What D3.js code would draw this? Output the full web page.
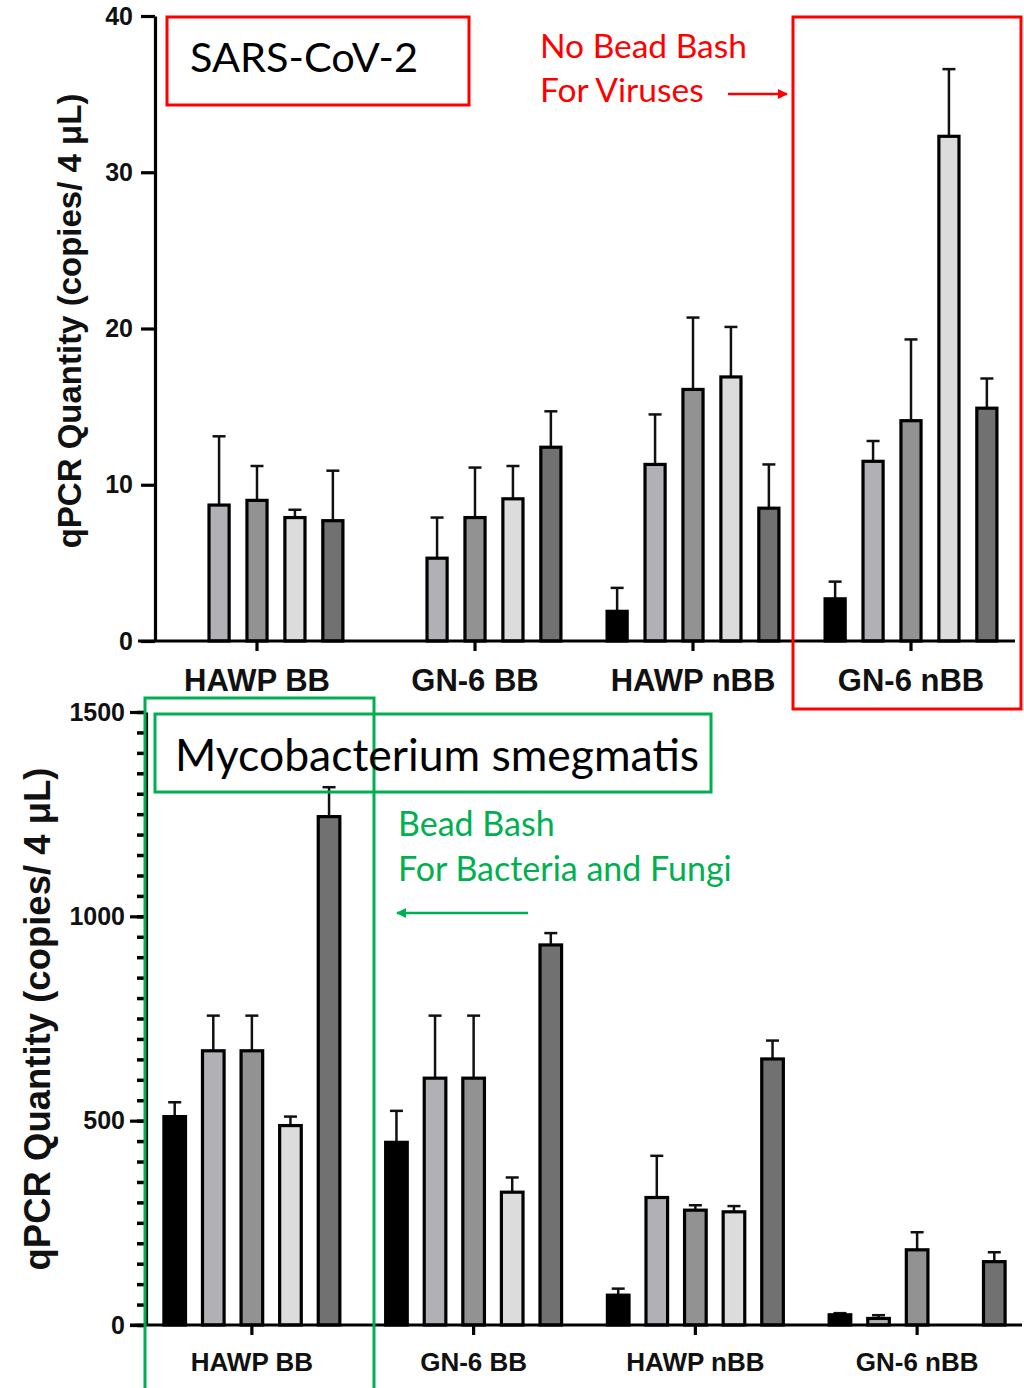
<!DOCTYPE html>
<html>
<head>
<meta charset="utf-8">
<script src="https://cdn.jsdelivr.net/npm/d3@7"></script>
<style>
  body { margin: 0; background: #fff; }
  svg { display: block; }
</style>
</head>
<body>
<script>
// groups and bar fills (5 bars per group)
const groups = ["HAWP BB", "GN-6 BB", "HAWP nBB", "GN-6 nBB"];
const barFills = ["#000000", "#b1b0b5", "#929292", "#dcdcdc", "#717171"];

// SARS-CoV-2 panel, mean and SD per group
const sarsMean = [
  [0, 8.7, 9.0, 7.9, 7.7],
  [0, 5.3, 7.9, 9.1, 12.4],
  [1.9, 11.3, 16.1, 16.9, 8.5],
  [2.7, 11.5, 14.1, 32.3, 14.9]
];
const sarsSd = [
  [0, 4.4, 2.2, 0.5, 3.2],
  [0, 2.6, 3.2, 2.1, 2.3],
  [1.5, 3.2, 4.6, 3.2, 2.8],
  [1.1, 1.3, 5.2, 4.3, 1.9]
];
const sarsTicks = [0, 10, 20, 30, 40];

// Mycobacterium smegmatis panel
const mycoMean = [
  [510, 671, 671, 488, 1244],
  [447, 604, 604, 325, 930],
  [73, 312, 281, 277, 651],
  [25, 16, 184, 0, 155]
];
const mycoSd = [
  [35, 86, 86, 22, 72],
  [77, 153, 153, 36, 29],
  [16, 102, 12, 14, 45],
  [4, 8, 43, 0, 23]
];
const mycoTicks = [0, 500, 1000, 1500];

const yTitle = "qPCR Quantity (copies/ 4 \u03bcL)";

const svg = d3.select("body").append("svg")
  .attr("width", 1024)
  .attr("height", 1388);

function drawPanel(opt) {
  const g = svg.append("g");

  const x = d3.scaleBand().domain(groups).range(opt.xRange);
  const inner = d3.scaleBand().domain(d3.range(5))
    .range([-x.step() * 0.435, x.step() * 0.435])
    .paddingInner(opt.pad).paddingOuter(opt.pad / 2);
  const y = d3.scaleLinear().domain([0, opt.max]).range(opt.yRange);

  const rows = [];
  groups.forEach((gr, i) => {
    opt.mean[i].forEach((m, j) => {
      if (m > 0) rows.push({ g: gr, s: j, m: m, sd: opt.sd[i][j] });
    });
  });
  const cx = d => x(d.g) + x.bandwidth() / 2 + inner(d.s) + inner.bandwidth() / 2;

  // error bars first, so the bar outline sits on top
  const eb = g.selectAll(".err").data(rows.filter(d => d.sd > 0)).enter().append("g")
    .attr("stroke", "#111").attr("stroke-width", 2.5);
  eb.append("line")
    .attr("x1", cx).attr("x2", cx)
    .attr("y1", d => y(d.m))
    .attr("y2", d => y(d.m + d.sd));
  eb.append("line")
    .attr("x1", d => cx(d) - 6.5)
    .attr("x2", d => cx(d) + 6.5)
    .attr("y1", d => y(d.m + d.sd))
    .attr("y2", d => y(d.m + d.sd));

  g.selectAll(".bar").data(rows).enter().append("rect")
    .attr("x", d => x(d.g) + x.bandwidth() / 2 + inner(d.s))
    .attr("width", inner.bandwidth())
    .attr("y", d => y(d.m))
    .attr("height", d => y(0) - y(d.m))
    .attr("fill", d => barFills[d.s])
    .attr("stroke", "#000")
    .attr("stroke-width", 3.2);

  // y axis
  const yAxis = d3.axisLeft(y).tickValues(opt.ticks).tickSize(opt.tick)
    .tickSizeOuter(0).tickFormat(d3.format("d"));
  const ya = g.append("g").attr("transform", `translate(${opt.axisX},0)`).call(yAxis);
  if (opt.minor) {
    g.append("g").attr("transform", `translate(${opt.axisX},0)`)
      .call(d3.axisLeft(y).tickValues(d3.range(0, opt.max + 1, 50)).tickSize(9).tickFormat(""))
      .call(a => a.select(".domain").remove())
      .selectAll("line").attr("stroke-width", 3.5);
  }
  ya.select(".domain").attr("stroke-width", 3.2);
  ya.selectAll(".tick line").attr("stroke-width", 3.2);
  ya.selectAll(".tick text")
    .attr("x", -opt.tick - opt.tickGap)
    .attr("font-family", "Liberation Sans, Arial, sans-serif")
    .attr("font-weight", "bold")
    .attr("font-size", opt.tickFont)
    .attr("fill", "#111");

  // x axis
  const xa = g.append("g").attr("transform", `translate(0,${y(0)})`)
    .call(d3.axisBottom(x).tickSize(10).tickSizeOuter(0).tickPadding(opt.xPad));
  xa.select(".domain").attr("d", `M${opt.xLine[0]},0H${opt.xLine[1]}`).attr("stroke-width", 3.2);
  xa.selectAll(".tick line").attr("stroke-width", 3.2);
  xa.selectAll(".tick text")
    .attr("font-family", "Liberation Sans, Arial, sans-serif")
    .attr("font-weight", "bold")
    .attr("font-size", opt.xFont)
    .attr("fill", "#111");

  g.append("text")
    .attr("transform", `translate(${opt.titleX},${opt.titleY}) rotate(-90)`)
    .attr("text-anchor", "middle")
    .attr("font-family", "Liberation Sans, Arial, sans-serif")
    .attr("font-weight", "bold")
    .attr("font-size", opt.titleFont)
    .attr("fill", "#111")
    .text(yTitle);
}

drawPanel({
  mean: sarsMean, sd: sarsSd, max: 40, ticks: sarsTicks,
  xRange: [148, 1020], yRange: [641, 16], axisX: 155, tick: 14, tickGap: 8,
  pad: 0.47, xLine: [138, 1015], xPad: 18, xFont: 31, tickFont: 25,
  titleX: 81, titleY: 321, titleFont: 33
});

drawPanel({
  mean: mycoMean, sd: mycoSd, max: 1500, ticks: mycoTicks, minor: true,
  xRange: [141, 1028], yRange: [1325, 712], axisX: 146, tick: 16, tickGap: 5,
  pad: 0.44, xLine: [130, 1022], xPad: 18, xFont: 26, tickFont: 25,
  titleX: 50, titleY: 1019, titleFont: 36.5
});

// annotations
const font = "Lato, 'Open Sans', sans-serif";
const red = "#ff0000", green = "#00b050";

// white patch over the bottom of the last top label, as in the source image
svg.append("rect").attr("x", 955).attr("y", 692).attr("width", 34).attr("height", 10).attr("fill", "#fff");

svg.append("rect").attr("x", 167).attr("y", 17).attr("width", 302).attr("height", 88)
  .attr("fill", "none").attr("stroke", red).attr("stroke-width", 3);
svg.append("text").attr("x", 190).attr("y", 72).attr("font-family", font).attr("font-size", 41.5)
  .attr("fill", "#000").text("SARS-CoV-2");

svg.append("text").attr("x", 540).attr("y", 58).attr("font-family", font).attr("font-size", 33.5)
  .attr("fill", red).text("No Bead Bash");
svg.append("text").attr("x", 540).attr("y", 102).attr("font-family", font).attr("font-size", 33.5)
  .attr("fill", red).text("For Viruses");

svg.append("defs").selectAll("marker").data([["ar", red], ["ag", green]]).enter().append("marker")
  .attr("id", d => d[0]).attr("viewBox", "0 0 10 10").attr("refX", 9).attr("refY", 5)
  .attr("markerWidth", 5).attr("markerHeight", 4).attr("markerUnits", "strokeWidth")
  .attr("orient", "auto")
  .append("path").attr("d", "M0,0L10,5L0,10Z").attr("fill", d => d[1]);

svg.append("line").attr("x1", 728).attr("x2", 787).attr("y1", 94).attr("y2", 94)
  .attr("stroke", red).attr("stroke-width", 2.5).attr("marker-end", "url(#ar)");

svg.append("rect").attr("x", 793).attr("y", 17).attr("width", 228).attr("height", 692)
  .attr("fill", "none").attr("stroke", red).attr("stroke-width", 3);

svg.append("rect").attr("x", 145).attr("y", 698).attr("width", 229).attr("height", 700)
  .attr("fill", "none").attr("stroke", green).attr("stroke-width", 3);
svg.append("rect").attr("x", 155).attr("y", 714).attr("width", 556).attr("height", 78)
  .attr("fill", "none").attr("stroke", green).attr("stroke-width", 3);
svg.append("text").attr("x", 175).attr("y", 771).attr("font-family", font).attr("font-size", 44.5)
  .attr("fill", "#000").text("Mycobacterium smegmatis");

svg.append("text").attr("x", 398).attr("y", 836).attr("font-family", font).attr("font-size", 34)
  .attr("fill", green).text("Bead Bash");
svg.append("text").attr("x", 398).attr("y", 881).attr("font-family", font).attr("font-size", 34)
  .attr("fill", green).text("For Bacteria and Fungi");
svg.append("line").attr("x1", 528).attr("x2", 397).attr("y1", 913).attr("y2", 913)
  .attr("stroke", green).attr("stroke-width", 2.5).attr("marker-end", "url(#ag)");
</script>
</body>
</html>
